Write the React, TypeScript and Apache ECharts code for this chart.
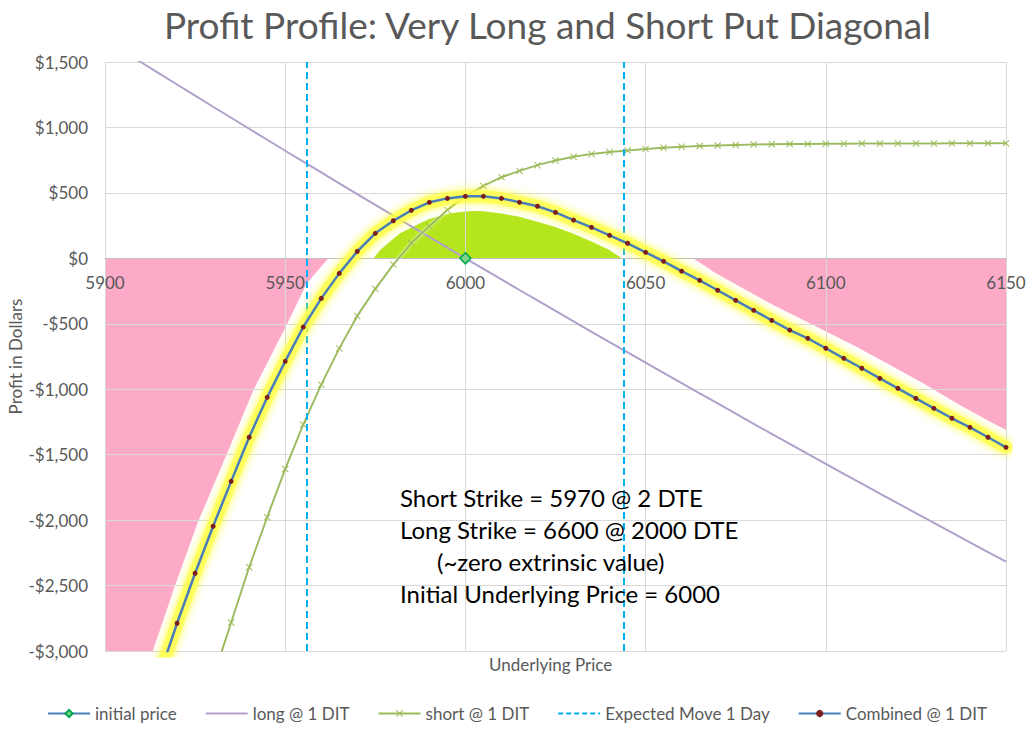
import React, { useEffect, useRef } from "react";
import * as echarts from "echarts";

// Sampling grid of underlying prices (every 5 points)
const prices: number[] = Array.from({ length: 51 }, (_, i) => 5900 + 5 * i);

// long @ 1 DIT
const longVals = [
  1670, 1584, 1498, 1413, 1328, 1243, 1158, 1074, 990, 906,
  822, 739, 656, 573, 490, 408, 326, 244, 162, 81,
  0, -81, -161, -242, -322, -402, -481, -561, -640, -719,
  -797, -876, -954, -1032, -1109, -1187, -1264, -1341, -1417, -1494,
  -1570, -1646, -1721, -1797, -1872, -1947, -2021, -2096, -2170, -2244,
  -2318,
];

// short @ 1 DIT
const shortVals = [
  -6210, -5650, -5115, -4605, -4115, -3650, -3205, -2782, -2360, -1978,
  -1610, -1270, -965, -688, -440, -233, -48, 117, 245, 370,
  472, 553, 620, 668, 712, 748, 776, 798, 812, 823,
  836, 845, 852, 858, 862, 866, 870, 872, 873, 874,
  875, 876, 877, 877, 878, 878, 878, 879, 879, 879,
  879,
];

// Combined @ 1 DIT
const combinedVals = [
  -4540, -4070, -3620, -3193, -2788, -2406, -2047, -1704, -1367, -1062,
  -787, -525, -306, -115, 53, 191, 287, 367, 428, 458,
  474, 474, 458, 428, 398, 351, 292, 237, 176, 115,
  46, -23, -98, -168, -244, -321, -397, -474, -548, -611,
  -687, -764, -840, -917, -993, -1070, -1146, -1222, -1291, -1367,
  -1444,
];

// Shaded loss region (pink)
const lossX = [5900, 5913.2, 5919.4, 5925.9, 5933.7, 5941.2, 5950.4, 5956, 5962, 6063.2, 6068.8, 6076.2, 6085.4, 6094.7, 6100.2, 6108.5, 6117.8, 6127, 6136.3, 6145.6, 6150];
const lossY = [-4080, -3005, -2503, -2007, -1503, -1006, -510, -191, 0, 0, -102, -217, -357, -484, -561, -675, -815, -955, -1108, -1248, -1312];

// Shaded gain region (green)
const gainX = [5974.5, 5976.3, 5980, 5981.9, 5985, 5988.3, 5990, 5992, 5995.7, 6000, 6002.5, 6005, 6010, 6015, 6020, 6025, 6030, 6035, 6040, 6043.4];
const gainY = [0, 63, 150, 191, 235, 280, 300, 318, 344, 358, 362, 360, 342, 318, 280, 240, 188, 128, 63, 0];

const initialPrice = 6000;
const initialProfit = 0;
const expectedMoves = [5956, 6044];

const yTicks = { min: -3000, max: 1500, interval: 500 };
const xTicks = { min: 5900, max: 6150, interval: 50 };

const annotation = [
  "Short Strike = 5970 @ 2 DTE",
  "Long Strike = 6600 @ 2000 DTE",
  "(~zero extrinsic value)",
  "Initial Underlying Price = 6000",
];

const FONT = "Lato, 'Open Sans', sans-serif";
const GRAY = "#595959";

const GRID = { left: 105, right: 28, top: 62, bottom: 78 };
const CHART_H = 729;

function fmtDollar(v: number) {
  const s = "$" + Math.abs(v).toLocaleString("en-US");
  return v < 0 ? "-" + s : s;
}

export default function App() {
  const ref = useRef<HTMLDivElement>(null);
  useEffect(() => {
    if (!ref.current) return;
    const chart = echarts.init(ref.current, undefined, { renderer: "svg" });
    const zip = (xs: number[], ys: number[]) => xs.map((x, i) => [x, ys[i]]);

    // place the x axis on the zero line of the y axis
    const plotH = CHART_H - GRID.top - GRID.bottom;
    const zeroFromBottom = ((0 - yTicks.min) / (yTicks.max - yTicks.min)) * plotH;

    const noMarker = { color: "transparent", borderWidth: 0 };

    const option: any = {
      animation: false,
      backgroundColor: "#ffffff",
      title: {
        text: "Profit Profile: Very Long and Short Put Diagonal",
        left: 159,
        top: 1,
        textStyle: { fontFamily: FONT, fontSize: 37, fontWeight: "normal", color: GRAY },
      },
      grid: { ...GRID, outerBoundsMode: "none", containLabel: false },
      legend: {
        top: 705,
        left: "center",
        padding: 0,
        itemWidth: 42,
        itemHeight: 9,
        itemGap: 28,
        textStyle: { fontFamily: FONT, fontSize: 17, color: GRAY },
        data: [
          { name: "initial price" },
          { name: "long @ 1 DIT", itemStyle: noMarker },
          { name: "short @ 1 DIT" },
          { name: "Expected Move 1 Day", itemStyle: noMarker },
          { name: "Combined @ 1 DIT" },
        ],
      },
      xAxis: {
        type: "value",
        z: 2,
        min: xTicks.min,
        max: xTicks.max,
        interval: xTicks.interval,
        offset: -zeroFromBottom,
        axisLine: { onZero: false, lineStyle: { color: "#bfbfbf", width: 1 } },
        axisTick: { show: false },
        axisLabel: { color: GRAY, fontFamily: FONT, fontSize: 17, margin: 16, formatter: (v: number) => String(v) },
        splitLine: { show: true, lineStyle: { color: "#d9d9d9", width: 1 } },
      },
      yAxis: {
        type: "value",
        z: 2,
        min: yTicks.min,
        max: yTicks.max,
        interval: yTicks.interval,
        name: "Profit in Dollars",
        nameLocation: "middle",
        nameGap: 81,
        nameMoveOverlap: false,
        nameTextStyle: { color: GRAY, fontFamily: FONT, fontSize: 17 },
        axisLine: { show: false, onZero: false },
        axisTick: { show: false },
        axisLabel: { color: GRAY, fontFamily: FONT, fontSize: 17, margin: 17, formatter: fmtDollar },
        splitLine: { show: true, lineStyle: { color: "#d9d9d9", width: 1 } },
      },
      graphic: [
        {
          type: "text",
          left: 489,
          top: 656,
          style: { text: "Underlying Price", fill: GRAY, font: `17px ${FONT}` },
        },
        ...annotation.map((t, i) => ({
          type: "text",
          left: i === 2 ? 437 : 400,
          top: 485 + i * 32,
          z: 100,
          style: { text: t, fill: "#000000", font: `24px ${FONT}` },
        })),
      ],
      series: [
        {
          name: "loss area",
          type: "line",
          data: zip(lossX, lossY),
          symbol: "none",
          lineStyle: { width: 0 },
          areaStyle: { color: "#fdaac8", opacity: 1 },
          z: 1,
          silent: true,
        },
        {
          name: "gain area",
          type: "line",
          data: zip(gainX, gainY),
          symbol: "none",
          lineStyle: { width: 0 },
          areaStyle: { color: "#b5e61d", opacity: 1 },
          z: 1,
          silent: true,
        },
        {
          name: "long @ 1 DIT",
          type: "line",
          data: zip(prices, longVals),
          symbol: "none",
          lineStyle: { color: "#b1a0cc", width: 2 },
          itemStyle: { color: "#b1a0cc" },
          z: 3,
        },
        {
          name: "short @ 1 DIT",
          type: "line",
          data: zip(prices, shortVals),
          symbol: "path://M0,1L1,0L5,4L9,0L10,1L6,5L10,9L9,10L5,6L1,10L0,9L4,5Z",
          symbolSize: 7,
          showAllSymbol: true,
          lineStyle: { color: "#9bbb59", width: 2, shadowColor: "rgba(255,255,255,0.9)", shadowBlur: 3 },
          itemStyle: { color: "#9bbb59" },
          z: 4,
        },
        {
          name: "Expected Move 1 Day",
          type: "line",
          data: [],
          symbol: "none",
          lineStyle: { color: "#00b0f0", width: 2, type: [5, 3] },
          itemStyle: { color: "#00b0f0" },
          markLine: {
            silent: true,
            symbol: ["none", "none"],
            label: { show: false },
            lineStyle: { color: "#00b0f0", width: 2, type: [7, 4] },
            data: expectedMoves.map((x) => ({ xAxis: x })),
          },
          z: 5,
        },
        {
          name: "combined glow",
          type: "line",
          data: zip(prices, combinedVals),
          symbol: "none",
          lineStyle: { color: "rgba(255,255,70,0.7)", width: 13, shadowColor: "rgba(255,255,0,1)", shadowBlur: 9, cap: "round", join: "round" },
          z: 6,
          silent: true,
        },
        {
          name: "Combined @ 1 DIT",
          type: "line",
          data: zip(prices, combinedVals),
          symbol: "circle",
          symbolSize: 5,
          showAllSymbol: true,
          lineStyle: { color: "#4a7ebb", width: 2.5 },
          itemStyle: { color: "#7b1f1f" },
          z: 7,
        },
        {
          name: "initial price",
          type: "line",
          data: [[initialPrice, initialProfit]],
          symbol: "diamond",
          symbolSize: 11,
          lineStyle: { color: "#4a7ebb", width: 2.5 },
          itemStyle: { color: "#7ed687", borderColor: "#00a650", borderWidth: 1.5 },
          z: 8,
        },
      ],
    };
    chart.setOption(option);
    return () => chart.dispose();
  }, []);
  return (
    <div
      ref={ref}
      style={{ position: "fixed", left: 0, top: 0, width: 1034, height: CHART_H }}
    />
  );
}
